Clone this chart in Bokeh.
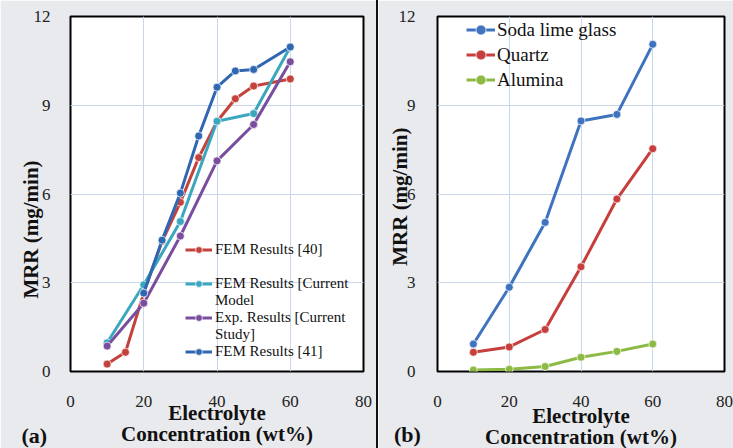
import math
from bokeh.plotting import figure
from bokeh.models import Range1d, FixedTicker, Legend, LegendItem, Div
from bokeh.core.properties import value
from bokeh.layouts import row
from bokeh.embed import file_html
from bokeh.resources import INLINE

# ---------------- data: panel (a) ----------------
x_fem40 = [10, 15, 20, 25, 30, 35, 40, 45, 50, 60]
y_fem40 = [0.25, 0.65, 2.65, 4.4, 5.72, 7.23, 8.45, 9.22, 9.65, 9.89]
x_cur = [10, 20, 30, 40, 50, 60]
y_cur = [0.97, 2.93, 5.07, 8.46, 8.72, 10.97]
x_exp = [10, 20, 30, 40, 50, 60]
y_exp = [0.86, 2.31, 4.58, 7.12, 8.35, 10.47]
x_fem41 = [20, 25, 30, 35, 40, 45, 50, 60]
y_fem41 = [2.65, 4.44, 6.03, 7.96, 9.61, 10.16, 10.21, 10.97]

# ---------------- data: panel (b) ----------------
x_b = [10, 20, 30, 40, 50, 60]
y_soda = [0.93, 2.85, 5.04, 8.47, 8.69, 11.06]
y_quartz = [0.65, 0.83, 1.42, 3.54, 5.83, 7.53]
y_alumina = [0.05, 0.08, 0.17, 0.48, 0.68, 0.93]

x_ticks = [0, 20, 40, 60, 80]
y_ticks = [0, 3, 6, 9, 12]

BG = "#e9eaed"
GRID = "#c8d7ea"
FONT = "Liberation Serif"


def make_fig(width, bl, br, bb, ystand):
    p = figure(width=width, height=448, x_range=Range1d(0, 80), y_range=Range1d(0, 12),
               output_backend="svg", toolbar_location=None,
               min_border_left=bl, min_border_right=br, min_border_top=16, min_border_bottom=bb)
    p.background_fill_color = "white"
    p.border_fill_color = BG
    p.outline_line_color = "black"
    p.outline_line_width = 2
    p.xaxis.ticker = FixedTicker(ticks=x_ticks)
    p.yaxis.ticker = FixedTicker(ticks=y_ticks)
    for ax in (p.xaxis[0], p.yaxis[0]):
        ax.axis_line_color = None
        ax.major_tick_line_color = None
        ax.minor_tick_line_color = None
        ax.major_label_text_font = FONT
        ax.major_label_text_font_size = "17px"
        ax.major_label_text_color = "#222222"
    p.xaxis.major_label_standoff = 18
    p.yaxis.major_label_standoff = ystand
    p.xgrid.grid_line_color = GRID
    p.ygrid.grid_line_color = GRID
    p.xgrid.ticker = FixedTicker(ticks=x_ticks)
    p.ygrid.ticker = FixedTicker(ticks=y_ticks)
    return p


def series(p, xs, ys, color):
    l = p.line(xs, ys, line_color=color, line_width=3)
    s = p.scatter(xs, ys, size=8, fill_color=color, line_color="white", line_alpha=0.7, line_width=1)
    return [l, s]


def add_text(p, x, y, text, size, angle=0.0, baseline="alphabetic"):
    p.text(x=[x], y=[y], text=[text], angle=angle, text_align="center", text_baseline=baseline,
           text_font=value(FONT), text_font_size=size, text_font_style="bold",
           text_color="#111111", level="overlay")


# ---------------- panel (a) ----------------
pa = make_fig(376, 70, 13, 75, 14)
r40 = series(pa, x_fem40, y_fem40, "#C4423C")
rcur = series(pa, x_cur, y_cur, "#3BA7BF")
rexp = series(pa, x_exp, y_exp, "#7A4E9E")
r41 = series(pa, x_fem41, y_fem41, "#2F67B3")
blank = pa.line([], [], line_alpha=0)

leg_a = Legend(items=[
    LegendItem(label="FEM Results [40]", renderers=r40),
    LegendItem(label=" ", renderers=[blank]),
    LegendItem(label="FEM Results [Current", renderers=rcur),
    LegendItem(label="Model", renderers=[blank]),
    LegendItem(label="Exp. Results [Current", renderers=rexp),
    LegendItem(label="Study]", renderers=[blank]),
    LegendItem(label="FEM Results [41]", renderers=r41),
], location=(115, 11), label_text_font=FONT, label_text_font_size="15px",
    label_text_color="#111111", glyph_width=27, glyph_height=17, label_height=17,
    label_standoff=3, spacing=0, padding=0, margin=0,
    border_line_color=None, background_fill_alpha=0)
pa.add_layout(leg_a)

add_text(pa, -10.9, 4.8, "MRR (mg/min)", "21px", angle=math.pi / 2, baseline="middle")
add_text(pa, 40, -1.41, "Electrolyte", "21px")
add_text(pa, 40, -2.12, "Concentration (wt%)", "21px")
add_text(pa, -9.9, -2.18, "(a)", "22px")

# ---------------- panel (b) ----------------
pb = make_fig(355, 59, 9, 77, 16)
rsoda = series(pb, x_b, y_soda, "#3F73C0")
rquartz = series(pb, x_b, y_quartz, "#C63F3C")
ralum = series(pb, x_b, y_alumina, "#8DBA45")

leg_b = Legend(items=[
    LegendItem(label="Soda lime glass", renderers=rsoda),
    LegendItem(label="Quartz", renderers=rquartz),
    LegendItem(label="Alumina", renderers=ralum),
], location=(29, 279), label_text_font=FONT, label_text_font_size="19px",
    label_text_color="#111111", glyph_width=29, glyph_height=25, label_height=25,
    label_standoff=2, spacing=0, padding=0, margin=0,
    border_line_color=None, background_fill_alpha=0)
pb.add_layout(leg_b)

add_text(pb, -10.5, 5.91, "MRR (mg/min)", "21px", angle=math.pi / 2, baseline="middle")
add_text(pb, 40, -1.49, "Electrolyte", "21px")
add_text(pb, 40, -2.20, "Concentration (wt%)", "21px")
add_text(pb, -8.4, -2.12, "(b)", "22px")

sep = Div(width=2, height=448, styles={"background-color": "#111111"}, margin=0)

layout = row(pa, sep, pb, spacing=0)
open("out.html", "w").write(file_html(layout, INLINE))
